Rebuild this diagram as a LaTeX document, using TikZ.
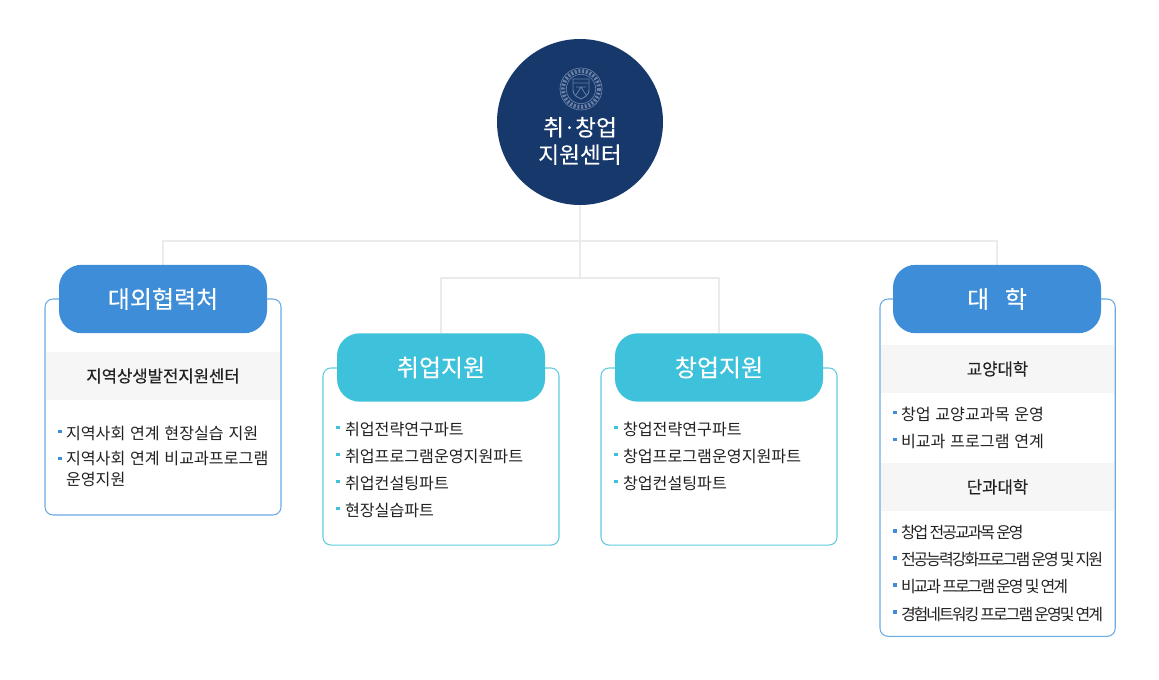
\documentclass[tikz,border=0pt]{standalone}
\usepackage{fontspec}
\usetikzlibrary{backgrounds,calc}
\setmainfont{Noto Sans CJK KR}
\newfontfamily\krm[FakeBold=0.35]{Noto Sans CJK KR}
\newfontfamily\krl[FakeBold=0.2]{Noto Sans CJK KR}
\newfontfamily\krn[LetterSpace=-12.5,WordSpace=0.7]{Noto Sans CJK KR}
\newfontfamily\krw[WordSpace=1.3]{Noto Sans CJK KR}
\definecolor{navy}{HTML}{16386B}
\definecolor{pillblue}{HTML}{3D8DD9}
\definecolor{pillteal}{HTML}{3EC1DA}
\definecolor{edgeblue}{HTML}{6AAAE4}
\definecolor{edgeteal}{HTML}{62CBE0}
\definecolor{band}{HTML}{F6F6F6}
\definecolor{conn}{HTML}{EBEBEB}
\definecolor{ink}{HTML}{222222}
\definecolor{seal}{HTML}{6A80A6}
\newcommand{\drop}[1]{\raisebox{-1pt}{#1}}
\tikzset{
  x=0.75pt,y=-0.75pt,
  every node/.style={inner sep=0pt,outer sep=0pt},
  connector/.style={draw=conn,line width=0.9pt},
  panel/.style={draw=#1,fill=white,line width=0.8pt,rounded corners=6pt,minimum width=177pt,anchor=north west},
  pill/.style={fill=#1,rounded corners=17pt,minimum width=156pt,minimum height=51.3pt,text=white,font=\krl\fontsize{18}{21}\selectfont},
  bandbox/.style={fill=band,minimum width=175.2pt,minimum height=36pt,text=ink,font=\krm\fontsize{12.5}{15}\selectfont},
  item/.style={anchor=west,text=ink,font=\krw\fontsize{12.1}{15}\selectfont,align=left},
  itemn/.style={anchor=west,text=ink,font=\krn\fontsize{12}{15}\selectfont},
  dot/.style={fill=#1,minimum size=2.6pt,anchor=center},
  sealline/.style={draw=seal,line width=0.5pt},
}
\begin{document}
\begin{tikzpicture}
\useasboundingbox (0,0) rectangle (1159,680);
% root
\node[circle,fill=navy,minimum size=124.5pt] (root) at (580,122) {};
\node[text=white,align=center,font=\krl\fontsize{17}{20.5}\selectfont] (roottext) at (580,141) {취{\kern-0.6pt}·{\kern-0.6pt}창업\\지원센터};
\node[circle,sealline,minimum size=31.5pt] (sealouter) at (581,89) {};
\node[circle,sealline,minimum size=22pt] (sealinner) at (581,89) {};
\draw[draw=seal,line width=3pt,dash pattern=on 1.5pt off 1.3pt] (581,89) circle (18);
\draw[draw=seal,line width=0.7pt] (573,79) -- (589,79) -- (589,90) .. controls (589,95) and (585,97) .. (581,99) .. controls (577,97) and (573,95) .. (573,90) -- cycle;
\draw[draw=seal,line width=0.6pt] (573,83) -- (589,83) (576,87) -- (586,87) (581,87) -- (576,95) (581,87) -- (586,95);
% panels
\node[panel=edgeblue,minimum height=162pt] (pa) at (45,299) {};
\node[panel=edgeteal,minimum height=132.8pt] (pb) at (323,368) {};
\node[panel=edgeteal,minimum height=132.8pt] (pc) at (601,368) {};
\node[panel=edgeblue,minimum height=253pt,minimum width=176.4pt] (pd) at (880,299) {};
% pills
\node[pill=pillblue] (ha) at (163,299) {\drop{대외협력처}};
\node[pill=pillteal] (hb) at (441,367.5) {\drop{취업지원}};
\node[pill=pillteal] (hc) at (719,367.5) {\drop{창업지원}};
\node[pill=pillblue] (hd) at (997,299) {\drop{대\hspace{0.65em}학}};
% connectors
\coordinate (j1) at (580,241);
\coordinate (j2) at (580,278);
\begin{scope}[on background layer]
\draw[connector] (root.south) -- (j2);
\draw[connector] (j1) -| (ha.north);
\draw[connector] (j1) -| (hd.north);
\draw[connector] (j2) -| (hb.north);
\draw[connector] (j2) -| (hc.north);
\end{scope}
% bands
\node[bandbox] (ba) at (163,376) {지역상생발전지원센터};
\node[bandbox] (bd1) at (997.5,369) {교양대학};
\node[bandbox] (bd2) at (997.5,487) {단과대학};
% items A
\node[dot=pillblue] (a1d) at (60,431.5) {};
\node[item] (a1) at (66,433) {지역사회 연계 현장실습 지원};
\node[dot=pillblue] (a2d) at (60,458.5) {};
\node[item,anchor=north west,font=\krw\fontsize{12.1}{15.2}\selectfont] (a2) at (66,451.5) {지역사회 연계 비교과프로그램\\운영지원};
% items B
\node[dot=pillteal] (b1d) at (338,427.5) {};
\node[item] (b1) at (345,429) {취업전략연구파트};
\node[dot=pillteal] (b2d) at (338,454.5) {};
\node[item] (b2) at (345,456) {취업프로그램운영지원파트};
\node[dot=pillteal] (b3d) at (338,481.5) {};
\node[item] (b3) at (345,483) {취업컨설팅파트};
\node[dot=pillteal] (b4d) at (338,508.5) {};
\node[item] (b4) at (345,510) {현장실습파트};
% items C
\node[dot=pillteal] (c1d) at (616,427.5) {};
\node[item] (c1) at (623,429) {창업전략연구파트};
\node[dot=pillteal] (c2d) at (616,454.5) {};
\node[item] (c2) at (623,456) {창업프로그램운영지원파트};
\node[dot=pillteal] (c3d) at (616,481.5) {};
\node[item] (c3) at (623,483) {창업컨설팅파트};
% items D
\node[dot=pillblue] (d1d) at (895,412.5) {};
\node[item] (d1) at (901,414) {창업 교양교과목 운영};
\node[dot=pillblue] (d2d) at (895,439.5) {};
\node[item] (d2) at (901,441) {비교과 프로그램 연계};
\node[dot=pillblue] (d3d) at (895,531) {};
\node[itemn] (d3) at (901,532.5) {창업 전공교과목 운영};
\node[dot=pillblue] (d4d) at (895,558) {};
\node[itemn] (d4) at (901,559.5) {전공능력강화프로그램 운영 및 지원};
\node[dot=pillblue] (d5d) at (895,585) {};
\node[itemn] (d5) at (901,586.5) {비교과 프로그램 운영 및 연계};
\node[dot=pillblue] (d6d) at (895,612) {};
\node[itemn] (d6) at (901,614) {경험네트워킹 프로그램 운영및 연계};
\end{tikzpicture}
\end{document}
